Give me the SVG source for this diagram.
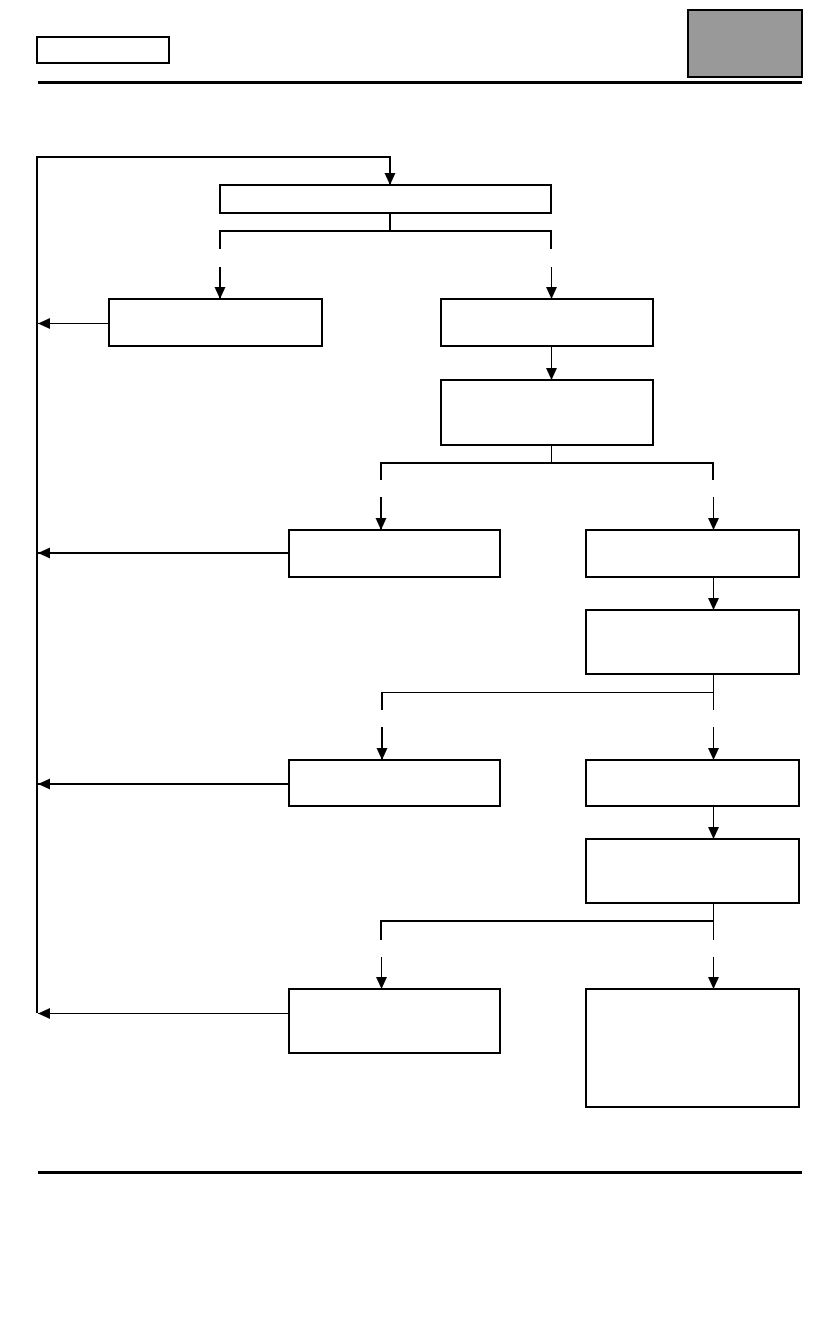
<svg xmlns="http://www.w3.org/2000/svg" width="840" height="1320" viewBox="0 0 840 1320">
<style>
.box{fill:#fff;stroke:#000;stroke-width:2}
.thick{fill:none;stroke:#000;stroke-width:2}
.thin{fill:none;stroke:#000;stroke-width:1}
.rule{stroke:#000;stroke-width:3}
</style>
<defs>
<marker id="ah" markerUnits="userSpaceOnUse" markerWidth="13" markerHeight="13" viewBox="0 0 13 13" refX="12" refY="6.5" orient="auto">
<path d="M0,1 L12,6.5 L0,12 Z" fill="#000"/>
</marker>
</defs>
<rect width="840" height="1320" fill="#fff"/>
<g id="header">
<rect x="37" y="37" width="132" height="26" class="box"/>
<rect x="688" y="10" width="114" height="67" fill="#999" stroke="#000" stroke-width="2"/>
<line x1="38" y1="82.5" x2="802" y2="82.5" class="rule"/>
<line x1="38" y1="1172.5" x2="802" y2="1172.5" class="rule"/>
</g>
<g id="connectors">
<path d="M37,1013 V157 H390 V185" class="thick" marker-end="url(#ah)"/>
<path d="M390,213 V231" class="thick"/>
<path d="M220,249 V231 H551 V249" class="thick"/>
<path d="M220,267 V299" class="thick" marker-end="url(#ah)"/>
<path d="M551.5,267 V299" class="thin" marker-end="url(#ah)"/>
<path d="M109,323.5 H38" class="thin" marker-end="url(#ah)"/>
<path d="M551.5,346 V380" class="thin" marker-end="url(#ah)"/>
<path d="M551.5,445 V463" class="thin"/>
<path d="M381,480 V463 H713 V480" class="thick"/>
<path d="M381,497 V530" class="thick" marker-end="url(#ah)"/>
<path d="M713.5,497 V530" class="thin" marker-end="url(#ah)"/>
<path d="M289,553 H38" class="thick" marker-end="url(#ah)"/>
<path d="M713.5,577 V610" class="thin" marker-end="url(#ah)"/>
<path d="M713.5,674 V710" class="thin"/>
<path d="M382,692.5 H713" class="thin"/>
<path d="M382,710 V692" class="thick"/>
<path d="M382,727 V760" class="thick" marker-end="url(#ah)"/>
<path d="M713.5,727 V760" class="thin" marker-end="url(#ah)"/>
<path d="M289,784 H38" class="thick" marker-end="url(#ah)"/>
<path d="M713.5,806 V839" class="thin" marker-end="url(#ah)"/>
<path d="M713.5,903 V940" class="thin"/>
<path d="M381,940 V921 H713" class="thick"/>
<path d="M381.5,957 V989" class="thin" marker-end="url(#ah)"/>
<path d="M713.5,957 V989" class="thin" marker-end="url(#ah)"/>
<path d="M289,1013.5 H38" class="thin" marker-end="url(#ah)"/>
</g>
<g id="nodeA"><rect x="220" y="185" width="331" height="28" class="box"/></g>
<g id="nodeB"><rect x="109" y="299" width="213" height="47" class="box"/></g>
<g id="nodeC"><rect x="441" y="299" width="212" height="47" class="box"/></g>
<g id="nodeD"><rect x="441" y="380" width="212" height="65" class="box"/></g>
<g id="nodeE"><rect x="289" y="530" width="211" height="47" class="box"/></g>
<g id="nodeF"><rect x="586" y="530" width="213" height="47" class="box"/></g>
<g id="nodeG"><rect x="586" y="610" width="213" height="64" class="box"/></g>
<g id="nodeH"><rect x="289" y="760" width="211" height="46" class="box"/></g>
<g id="nodeI"><rect x="586" y="760" width="213" height="46" class="box"/></g>
<g id="nodeJ"><rect x="586" y="839" width="213" height="64" class="box"/></g>
<g id="nodeK"><rect x="289" y="989" width="211" height="64" class="box"/></g>
<g id="nodeL"><rect x="586" y="989" width="213" height="118" class="box"/></g>
</svg>
